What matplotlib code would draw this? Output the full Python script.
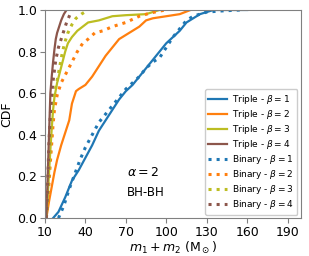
import numpy as np
import matplotlib
matplotlib.use("Agg")
import matplotlib.pyplot as plt

# ============================================
# DATOS
# ============================================
# Triple
tri_b1_x = [16, 20, 25, 30, 35, 40, 45, 50, 55, 60, 65, 70, 75, 80, 85, 90, 95, 100, 105, 110, 115, 120, 125, 130, 135, 160]
tri_b1_y = [0, 0.03, 0.1, 0.18, 0.23, 0.29, 0.35, 0.42, 0.47, 0.52, 0.57, 0.61, 0.64, 0.68, 0.72, 0.76, 0.80, 0.84, 0.87, 0.90, 0.94, 0.96, 0.98, 0.99, 1.0, 1.0]

tri_b2_x = [11, 13, 15, 17, 19, 22, 25, 28, 30, 33, 35, 40, 45, 50, 55, 60, 65, 70, 75, 80, 85, 90, 100, 110, 118]
tri_b2_y = [0, 0.08, 0.15, 0.22, 0.28, 0.35, 0.41, 0.47, 0.55, 0.61, 0.62, 0.64, 0.68, 0.73, 0.78, 0.82, 0.86, 0.88, 0.90, 0.92, 0.95, 0.96, 0.97, 0.98, 1.0]

tri_b3_x = [11, 12, 13, 14, 15, 16, 17, 19, 21, 23, 25, 27, 30, 34, 38, 42, 46, 50, 55, 60, 70, 85, 90, 95]
tri_b3_y = [0, 0.1, 0.22, 0.33, 0.43, 0.52, 0.58, 0.65, 0.70, 0.75, 0.80, 0.84, 0.87, 0.90, 0.92, 0.94, 0.945, 0.95, 0.96, 0.97, 0.975, 0.98, 0.99, 1.0]

tri_b4_x = [11, 11.5, 12, 12.5, 13, 13.5, 14, 15, 16, 17, 18, 19, 20, 22, 24, 26]
tri_b4_y = [0, 0.1, 0.2, 0.3, 0.4, 0.5, 0.6, 0.68, 0.75, 0.81, 0.86, 0.89, 0.91, 0.95, 0.98, 1.0]

# Binary
bin_b1_x = [20, 24, 28, 32, 36, 40, 45, 50, 55, 60, 65, 70, 75, 80, 85, 90, 95, 100, 105, 110, 115, 120, 130, 140, 155]
bin_b1_y = [0, 0.06, 0.14, 0.21, 0.28, 0.34, 0.40, 0.46, 0.50, 0.54, 0.58, 0.62, 0.65, 0.68, 0.72, 0.75, 0.77, 0.82, 0.87, 0.91, 0.95, 0.97, 0.99, 0.995, 1.0]

bin_b2_x = [11, 12, 13, 14, 15, 16, 17, 19, 22, 26, 30, 34, 38, 42, 47, 53, 60, 70, 80, 88, 95, 100]
bin_b2_y = [0, 0.08, 0.17, 0.27, 0.36, 0.45, 0.52, 0.59, 0.65, 0.70, 0.75, 0.80, 0.84, 0.86, 0.89, 0.90, 0.92, 0.94, 0.97, 0.985, 0.995, 1.0]

bin_b3_x = [11, 12, 13, 14, 15, 16, 17, 19, 21, 23, 25, 27, 30, 33, 37, 42]
bin_b3_y = [0, 0.1, 0.22, 0.35, 0.45, 0.55, 0.6, 0.66, 0.73, 0.8, 0.85, 0.89, 0.93, 0.96, 0.98, 1.0]

bin_b4_x = [11, 11.5, 12, 12.5, 13, 14, 15, 16, 17, 18, 19, 20, 22, 24, 26, 28, 30]
bin_b4_y = [0, 0.08, 0.17, 0.27, 0.37, 0.5, 0.6, 0.66, 0.71, 0.76, 0.79, 0.82, 0.86, 0.9, 0.94, 0.97, 1.0]

colores = ['#1f77b4', '#ff7f0e', '#bcbd22', '#8c564b']
xticks = [10, 40, 70, 100, 130, 160, 190]
yticks = [0.0, 0.2, 0.4, 0.6, 0.8, 1.0]

triple = [(tri_b1_x, tri_b1_y), (tri_b2_x, tri_b2_y), (tri_b3_x, tri_b3_y), (tri_b4_x, tri_b4_y)]
binary = [(bin_b1_x, bin_b1_y), (bin_b2_x, bin_b2_y), (bin_b3_x, bin_b3_y), (bin_b4_x, bin_b4_y)]

# ============================================
# FIGURA
# ============================================
fig = plt.figure(figsize=(3.09, 2.56), dpi=100)
ax = fig.add_axes([0.1456, 0.148, 0.8285, 0.813])

for i, (x, y) in enumerate(triple):
    ax.plot(x, y, color=colores[i], lw=1.6, label=r'Triple - $\beta = %d$' % (i + 1))
for i, (x, y) in enumerate(binary):
    ax.plot(x, y, color=colores[i], lw=2.2, ls=':', label=r'Binary - $\beta = %d$' % (i + 1))

ax.set_xlim(10, 200)
ax.set_ylim(0, 1)
ax.set_xticks(xticks)
ax.set_yticks(yticks)
ax.tick_params(labelsize=9, color='#808080', length=3.5, pad=2)
for s in ax.spines.values():
    s.set_color('#808080')

ax.set_xlabel(r'$m_1 + m_2$ (M$_\odot$)', fontsize=9, labelpad=1)
ax.set_ylabel('CDF', fontsize=9, labelpad=3)

ax.text(0.32, 0.22, r'$\alpha = 2$', transform=ax.transAxes, fontsize=9, va='center')
ax.text(0.32, 0.125, 'BH-BH', transform=ax.transAxes, fontsize=8.5, va='center')

ax.legend(loc='lower right', fontsize=6.5, handlelength=2.0, labelspacing=0.22,
          borderpad=0.4, handletextpad=0.6, framealpha=1, borderaxespad=0.4)

fig.savefig('out.png', dpi=100)
